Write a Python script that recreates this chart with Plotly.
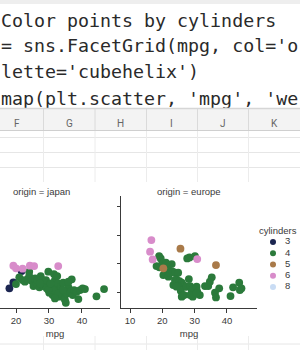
import plotly.graph_objects as go

# ---------------- data ----------------
code_lines = [
    "Color points by cylinders",
    "= sns.FacetGrid(mpg, col='o",
    "lette='cubehelix')",
    "map(plt.scatter, 'mpg', 'we",
]
sheet_columns = ["F", "G", "H", "I", "J", "K"]

cyl_levels = ["3", "4", "5", "6", "8"]
cyl_colors = ["#1b2550", "#2b7a3b", "#a97a49", "#d88cca", "#c9dcf4"]

# origin = japan
japan_mpg = {
    "3": [18.0, 19.2, 21.7],
    "4": [20.0, 21.0, 22.0, 22.7, 23.4, 24.0, 24.0, 24.7, 25.3, 25.8, 26.3, 27.1,
          27.5, 27.8, 28.3, 28.8, 29.3, 29.8, 30.1, 30.3, 30.8, 31.1, 31.5, 31.8,
          32.1, 32.3, 32.5, 32.8, 33.1, 33.3, 33.6, 33.9, 34.3, 34.8, 35.1, 35.4,
          35.9, 36.4, 36.9, 37.2, 37.6, 38.4, 38.9, 39.4, 40.2, 40.9, 44.4, 46.7,
          31.3, 29.8, 28.1, 26.5, 29.1, 32.8, 31.8, 34.3, 35.9, 27.3, 30.5],
    "6": [19.2, 20.0, 22.0, 24.2, 25.5, 32.8],
}
japan_wt = {
    "3": [2128, 2338, 2736],
    "4": [2280, 2514, 2420, 2362, 2444, 2713, 2560, 2397, 2209, 2478, 2303, 2163,
          2560, 2362, 2209, 2303, 2128, 2713, 1975, 2209, 2046, 1894, 2631, 2420,
          2163, 1975, 2560, 2303, 1835, 2069, 2186, 1894, 2326, 1741, 1624, 1952,
          2163, 2010, 2444, 1894, 2069, 2010, 1753, 2069, 2128, 2104, 1847, 2104,
          2069, 2069, 2420, 2420, 2420, 1952, 1776, 2069, 2362, 2303, 2303],
    "6": [2923, 2830, 2818, 2923, 2911, 2911],
}

# origin = europe
europe_mpg = {
    "4": [19.0, 19.5, 18.2, 19.1, 20.0, 20.8, 21.5, 21.9, 22.9, 21.1, 20.3, 21.9,
          22.4, 23.2, 23.9, 24.9, 24.4, 23.4, 23.9, 25.3, 26.0, 26.5, 27.0, 24.9,
          25.7, 26.3, 26.0, 27.5, 28.2, 28.6, 29.1, 29.6, 29.4, 30.6, 30.8, 31.6,
          33.2, 34.2, 34.7, 35.3, 36.3, 36.6, 37.6, 41.1, 41.9, 43.8, 44.5, 44.0,
          27.7, 28.4, 30.1, 26.7, 28.6, 30.6, 24.4],
    "5": [25.6, 20.3, 36.6],
    "6": [16.6, 16.2, 17.0, 30.8],
}
europe_wt = {
    "4": [3262, 3180, 2911, 2865, 3005, 2946, 2865, 2771, 2982, 3028, 2596, 2537,
          2677, 2713, 2677, 2677, 2444, 2245, 2420, 2385, 2327, 2245, 2186, 2209,
          2046, 1894, 1835, 2186, 2455, 2209, 2069, 1894, 1835, 2186, 2010, 1894,
          2209, 2209, 2362, 2514, 1975, 1811, 2128, 1858, 2163, 2327, 2128, 2069,
          3180, 3215, 3262, 1894, 1894, 1952, 2186],
    "5": [3520, 2830, 2946],
    "6": [3824, 3415, 3145, 3157],
}

x_ticks = [10, 20, 30, 40]
y_ticks = [2000, 3000, 4000, 5000]

# ---------------- helpers (layout only) ----------------
W, H = 300, 350
def PX(x):
    return x / W
def PY(y):
    return 1 - y / H

INK = "#3a3a3a"
SANS = "Liberation Sans"
fig = go.Figure()

color_of = dict(zip(cyl_levels, cyl_colors))

for cyl in cyl_levels:
    if cyl in japan_mpg:
        fig.add_trace(go.Scatter(x=japan_mpg[cyl], y=japan_wt[cyl], mode="markers",
                                 marker=dict(size=7.8, color=color_of[cyl], line=dict(width=0)),
                                 xaxis="x", yaxis="y", showlegend=False))
    if cyl in europe_mpg:
        fig.add_trace(go.Scatter(x=europe_mpg[cyl], y=europe_wt[cyl], mode="markers",
                                 marker=dict(size=7.8, color=color_of[cyl], line=dict(width=0)),
                                 xaxis="x2", yaxis="y2", showlegend=False))

# legend drawn as a categorical strip
fig.add_trace(go.Scatter(x=[0] * len(cyl_levels), y=cyl_levels, mode="markers",
                         marker=dict(size=6, color=cyl_colors),
                         xaxis="x3", yaxis="y3", showlegend=False, cliponaxis=False))
fig.add_trace(go.Scatter(x=[12] * len(cyl_levels), y=cyl_levels, mode="text",
                         text=cyl_levels, textposition="middle right",
                         textfont=dict(family=SANS, size=9.5, color=INK),
                         xaxis="x3", yaxis="y3", showlegend=False, cliponaxis=False))

# code text (lower part hidden under the sheet header)
fig.add_trace(go.Scatter(x=[1] * len(code_lines), y=[22.3, 47.8, 73.3, 100.8], mode="text",
                         text=code_lines, textposition="middle right",
                         textfont=dict(family="DejaVu Sans Mono", size=18.3, color="#2a2a2a"),
                         xaxis="x4", yaxis="y4", showlegend=False, cliponaxis=False))

axis_common = dict(showgrid=False, zeroline=False, showline=True, linecolor=INK, linewidth=1,
                   ticks="outside", ticklen=3.5, tickwidth=1, tickcolor=INK,
                   tickfont=dict(family=SANS, size=9.5, color=INK), fixedrange=True)

ydom = [PY(308), PY(196)]
fig.update_layout(
    width=W, height=H, margin=dict(l=0, r=0, t=0, b=0),
    paper_bgcolor="white", plot_bgcolor="rgba(0,0,0,0)",
    xaxis=dict(domain=[0, PX(110)], range=[15.15, 48.5], tickvals=x_ticks,
               title=dict(text="mpg", standoff=5, font=dict(family=SANS, size=9.5, color=INK)),
               **axis_common),
    yaxis=dict(domain=ydom, range=[1439, 5369], tickvals=y_ticks, showticklabels=False,
               showgrid=False, zeroline=False, showline=False, ticks="", fixedrange=True),
    xaxis2=dict(domain=[PX(121), PX(257)], range=[7.2, 49.3], tickvals=x_ticks, anchor="y2",
                title=dict(text="mpg", standoff=5, font=dict(family=SANS, size=9.5, color=INK)),
                **axis_common),
    yaxis2=dict(domain=ydom, range=[1439, 5369], tickvals=y_ticks, showticklabels=False,
                anchor="x2", showgrid=False, zeroline=False, showline=True, linecolor=INK,
                linewidth=1, ticks="outside", ticklen=3.5, tickcolor=INK, fixedrange=True),
    xaxis3=dict(domain=[PX(262), 1], range=[-11, 27], visible=False, anchor="y3", fixedrange=True),
    yaxis3=dict(domain=[PY(292.6), PY(236.4)], type="category", categoryorder="array",
                categoryarray=cyl_levels, range=[4.5, -0.5], visible=False, anchor="x3",
                fixedrange=True),
    xaxis4=dict(domain=[0, 1], range=[0, 300], visible=False, anchor="y4", fixedrange=True),
    yaxis4=dict(domain=[PY(108), 1], range=[108, 0], visible=False, anchor="x4", fixedrange=True),
)

shapes = []
# top gray strip
shapes.append(dict(type="rect", xref="paper", yref="paper", x0=0, x1=1, y0=PY(4), y1=1,
                   fillcolor="#eeeeee", line=dict(width=0), layer="above"))
# header row (covers the bottom of the last code line)
shapes.append(dict(type="rect", xref="paper", yref="paper", x0=0, x1=1, y0=PY(131), y1=PY(108),
                   fillcolor="#f3f3f3", line=dict(width=0), layer="above"))
shapes.append(dict(type="line", xref="paper", yref="paper", x0=0, x1=1, y0=PY(108.5), y1=PY(108.5),
                   line=dict(color="#d6d6d6", width=1.5), layer="above"))
shapes.append(dict(type="line", xref="paper", yref="paper", x0=0, x1=1, y0=PY(130.5), y1=PY(130.5),
                   line=dict(color="#cfcfcf", width=1), layer="above"))
# cell row lines
for ry in [137.5, 152.5, 167.5, 344]:
    shapes.append(dict(type="line", xref="paper", yref="paper", x0=0, x1=1, y0=PY(ry), y1=PY(ry),
                       line=dict(color="#e6e6e6", width=1), layer="below"))
# column lines (header + cells above chart, and below chart)
for cx in [43.5, 95, 146.5, 197.5, 248.5]:
    shapes.append(dict(type="line", xref="paper", yref="paper", x0=PX(cx), x1=PX(cx),
                       y0=PY(130), y1=PY(109), line=dict(color="#dadada", width=1), layer="above"))
    shapes.append(dict(type="line", xref="paper", yref="paper", x0=PX(cx), x1=PX(cx),
                       y0=PY(182), y1=PY(131), line=dict(color="#ececec", width=1), layer="below"))
    shapes.append(dict(type="line", xref="paper", yref="paper", x0=PX(cx), x1=PX(cx),
                       y0=0, y1=PY(336), line=dict(color="#ececec", width=1), layer="below"))
fig.update_layout(shapes=shapes)

ann = []
col_centers = [17, 69, 120.5, 171.5, 222.5, 274]
for col, cx in zip(sheet_columns, col_centers):
    ann.append(dict(text=col, x=PX(cx), y=PY(123), xref="paper", yref="paper", showarrow=False,
                    xanchor="center", yanchor="middle",
                    font=dict(family="Roboto", size=10, color="#666666")))
ann.append(dict(text="origin = japan", x=PX(41.5), y=PY(191), xref="paper", yref="paper",
                showarrow=False, xanchor="center", yanchor="middle",
                font=dict(family=SANS, size=9.5, color=INK)))
ann.append(dict(text="origin = europe", x=PX(189), y=PY(191), xref="paper", yref="paper",
                showarrow=False, xanchor="center", yanchor="middle",
                font=dict(family=SANS, size=9.5, color=INK)))
ann.append(dict(text="cylinders", x=PX(278), y=PY(230), xref="paper", yref="paper",
                showarrow=False, xanchor="center", yanchor="middle",
                font=dict(family=SANS, size=9.5, color=INK)))
fig.update_layout(annotations=ann)

fig.write_html("out.html")
